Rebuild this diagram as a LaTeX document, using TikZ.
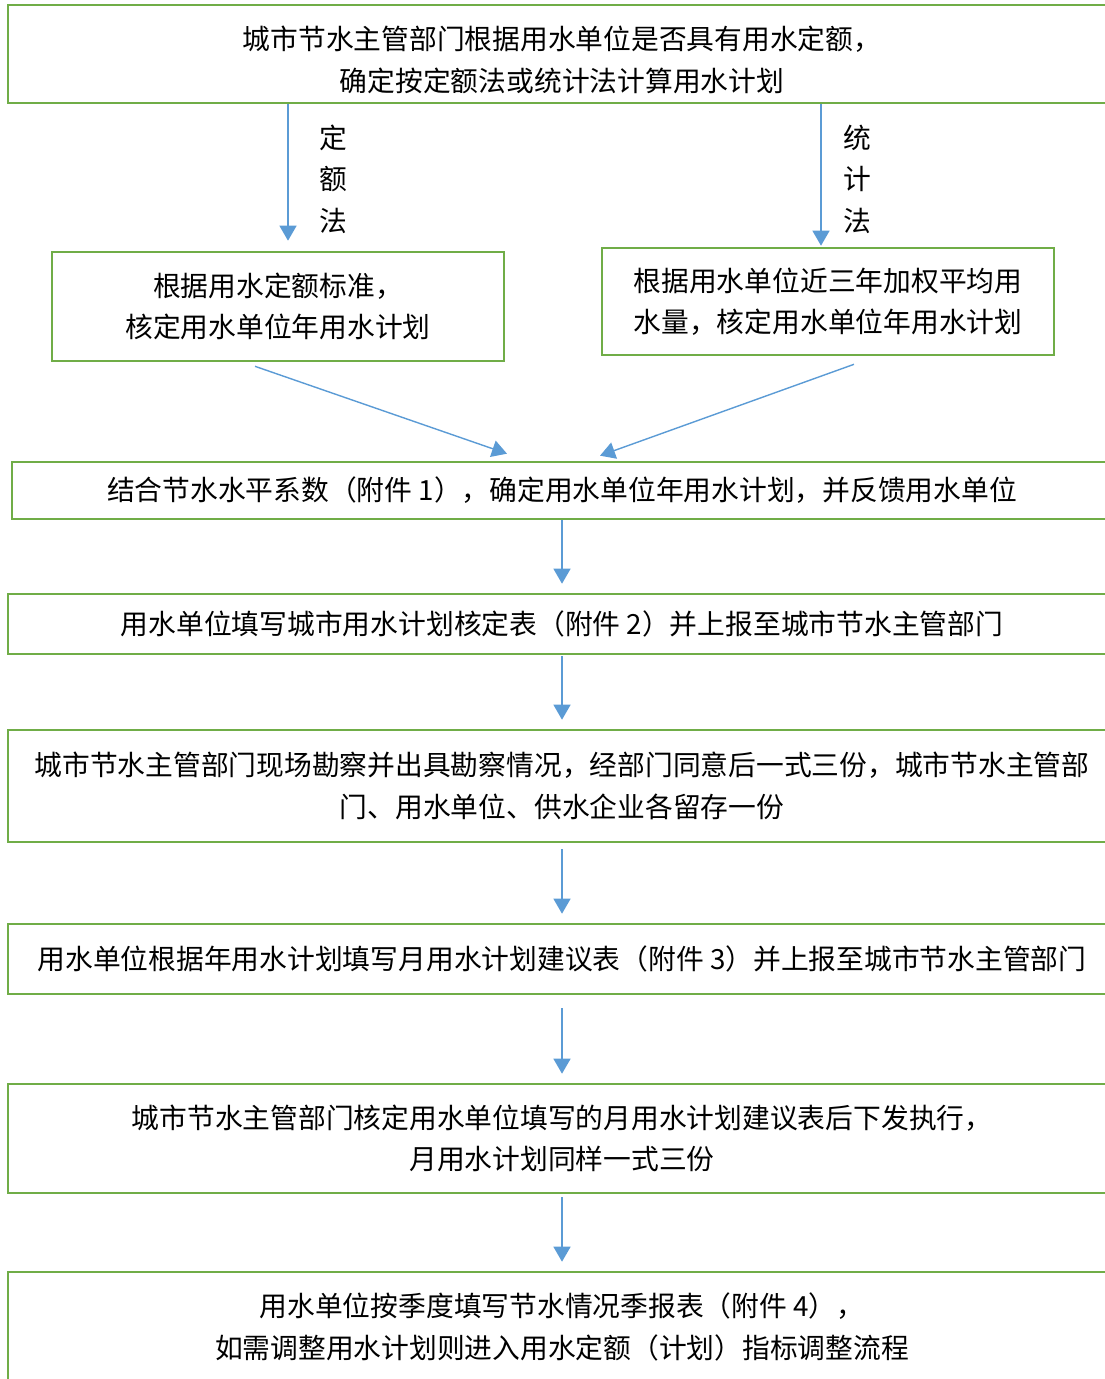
\documentclass[tikz,border=0pt]{standalone}
\usepackage{fontspec}
\newfontfamily\cjkfont{Noto Sans CJK SC}
\usetikzlibrary{arrows.meta,calc}
\definecolor{boxgreen}{RGB}{112,173,71}
\definecolor{flowblue}{RGB}{91,155,213}

\begin{document}
\begin{tikzpicture}[x=0.02cm, y=-0.02cm,
    every node/.style={font=\cjkfont\fontsize{15.8}{23.6}\selectfont, text=black},
    box/.style={draw=boxgreen, line width=1.5pt, inner sep=0pt, align=center},
    flow/.style={draw=flowblue, line width=0.8pt, -{Triangle[width=0.34cm,length=0.3cm]}}]
    \useasboundingbox (0,0) rectangle (1105,1379);
    \clip (0,0) rectangle (1105,1379);

    \node[box, minimum width=22.16cm, minimum height=1.96cm] (box1) at (562,54)
        {\rule{0pt}{20pt}城市节水主管部门根据用水单位是否具有用水定额，\\确定按定额法或统计法计算用水计划};
    \node[box, minimum width=9.04cm, minimum height=2.18cm] (box2L) at (278,306.5)
        {根据用水定额标准，\\核定用水单位年用水计划};
    \node[box, align=left, minimum width=9.04cm, minimum height=2.14cm] (box2R) at (828,301.5)
        {根据用水单位近三年加权平均用\\水量，核定用水单位年用水计划};
    \node[box, minimum width=22cm, minimum height=1.14cm] (box3) at (562,490.5)
        {结合节水水平系数（附件 1），确定用水单位年用水计划，并反馈用水单位};
    \node[box, minimum width=22.16cm, minimum height=1.2cm] (box4) at (562,624)
        {用水单位填写城市用水计划核定表（附件 2）并上报至城市节水主管部门};
    \node[box, minimum width=22.16cm, minimum height=2.24cm] (box5) at (562,786)
        {城市节水主管部门现场勘察并出具勘察情况，经部门同意后一式三份，城市节水主管部\\门、用水单位、供水企业各留存一份};
    \node[box, minimum width=22.16cm, minimum height=1.4cm] (box6) at (562,959)
        {用水单位根据年用水计划填写月用水计划建议表（附件 3）并上报至城市节水主管部门};
    \node[box, minimum width=22.16cm, minimum height=2.18cm] (box7) at (562,1138.5)
        {城市节水主管部门核定用水单位填写的月用水计划建议表后下发执行，\\月用水计划同样一式三份};
    \node[box, minimum width=22.16cm, minimum height=2.2cm] (box8) at (562,1327)
        {用水单位按季度填写节水情况季报表（附件 4），\\如需调整用水计划则进入用水定额（计划）指标调整流程};

    % the two methods
    \draw[flow] ($(box1.south -| box2L.north)+(10,0)$) -- ($(box2L.north)+(10,-10)$);
    \draw[flow] ($(box1.south -| box2R.north)+(-7,0)$) -- ($(box2R.north)+(-7,-1)$);
    \node[align=center] (quota) at (333,179) {定\\额\\法};
    \node[align=center] (stats) at (857,179) {统\\计\\法};

    \draw[flow] ($(box2L.south)+(-23,4)$) -- ($(box3.north)+(-55,-7)$);
    \draw[flow] ($(box2R.south)+(26,8)$) -- ($(box3.north)+(38,-5)$);

    % main line
    \foreach \a/\b/\s in {box3/box4/0, box4/box5/1, box5/box6/6, box6/box7/13, box7/box8/3} {
        \draw[flow] ($(\a.south)+(0,\s)$) -- ($(\b.north)+(0,-9)$);
    }
\end{tikzpicture}
\end{document}
